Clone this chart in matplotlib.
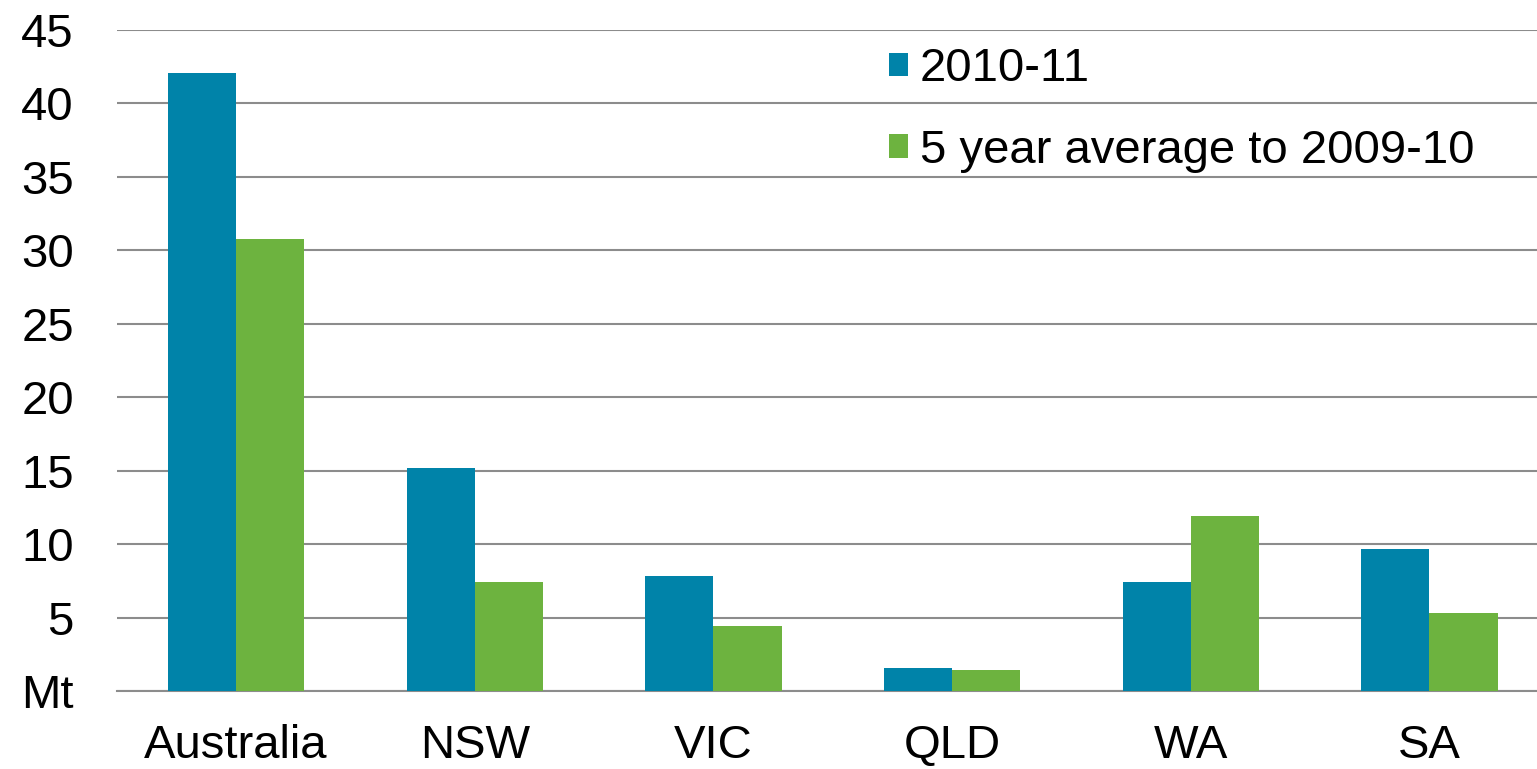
import matplotlib.pyplot as plt
import numpy as np

plt.rcParams['font.family'] = ['Liberation Sans', 'DejaVu Sans']

regions = ['Australia', 'NSW', 'VIC', 'QLD', 'WA', 'SA']
y2010_11 = [42.1, 15.2, 7.8, 1.6, 7.4, 9.7]
avg5yr = [30.8, 7.4, 4.4, 1.4, 11.9, 5.3]
series_labels = ['2010-11', '5 year average to 2009-10']
yticks = [0, 5, 10, 15, 20, 25, 30, 35, 40, 45]
ytick_labels = ['Mt', '5', '10', '15', '20', '25', '30', '35', '40', '45']

blue = '#0083A9'
green = '#6DB33F'

fig = plt.figure(figsize=(15.37, 7.69), dpi=100)
ax = fig.add_axes([0.076, 0.1014, 0.9317, 0.8596])

x = np.arange(len(regions))
w = 0.285
ax.bar(x - w / 2, y2010_11, w, color=blue, label=series_labels[0], zorder=3)
ax.bar(x + w / 2, avg5yr, w, color=green, label=series_labels[1], zorder=3)

ax.set_xlim(-0.5, len(regions) - 0.5)
ax.set_ylim(0, 45)
ax.set_yticks(yticks)
ax.set_yticklabels(ytick_labels)
ax.set_xticks(x)
ax.set_xticklabels(regions)
ax.tick_params(axis='y', length=0, pad=31, labelsize=34)
ax.tick_params(axis='x', length=0, pad=24, labelsize=34)
ax.yaxis.grid(True, color='#8c8c8c', linewidth=1.5, zorder=0)
for s in ['top', 'right', 'left']:
    ax.spines[s].set_visible(False)
ax.spines['bottom'].set_color('#8c8c8c')
ax.spines['bottom'].set_linewidth(1.5)

ax.legend(loc='upper left', bbox_to_anchor=(0.566, 0.963), bbox_transform=fig.transFigure,
          frameon=False, fontsize=34, handlelength=0.4, handleheight=0.4,
          handletextpad=0.25, labelspacing=0.8, borderaxespad=0)

fig.savefig('out.png', dpi=100)
